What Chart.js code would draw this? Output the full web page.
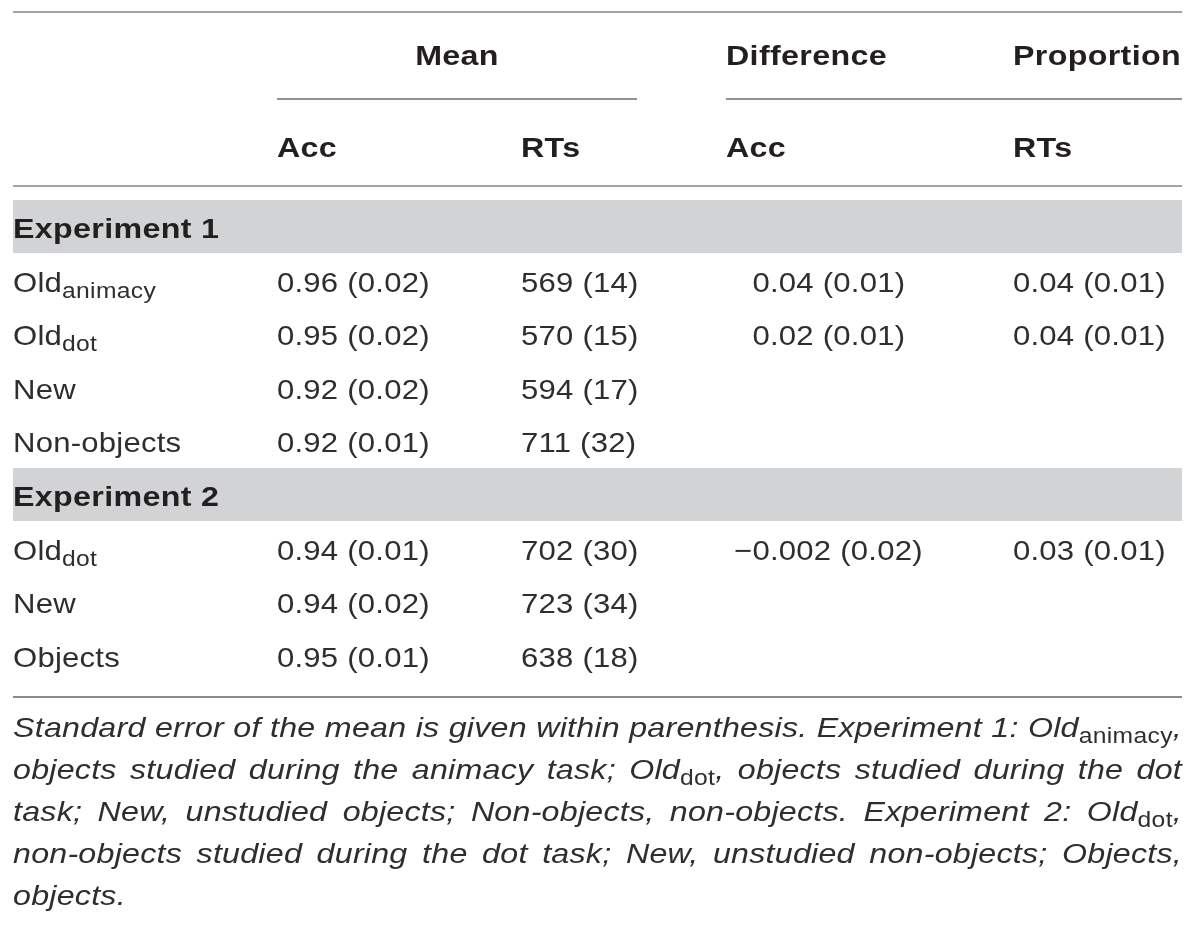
<!DOCTYPE html>
<html>
<head>
<meta charset="utf-8">
<script src="https://cdn.jsdelivr.net/npm/chart.js@4.4.1/dist/chart.umd.min.js"></script>
<style>
  html, body { margin: 0; padding: 0; background: #fff; }
  canvas { display: block; }
</style>
</head>
<body>
<canvas id="table" width="1200" height="928"></canvas>
<script>
// table content
const groupHeaders = ['Mean', 'Difference', 'Proportion'];
const columnHeaders = ['Acc', 'RTs', 'Acc', 'RTs'];
const experimentLabels = ['Experiment 1', 'Experiment 2'];

const exp1Conditions = ['Old_{animacy}', 'Old_{dot}', 'New', 'Non-objects'];
const exp1MeanAcc = ['0.96 (0.02)', '0.95 (0.02)', '0.92 (0.02)', '0.92 (0.01)'];
const exp1MeanRTs = ['569 (14)', '570 (15)', '594 (17)', '711 (32)'];
const exp1DiffAcc = ['0.04 (0.01)', '0.02 (0.01)', '', ''];
const exp1PropRTs = ['0.04 (0.01)', '0.04 (0.01)', '', ''];

const exp2Conditions = ['Old_{dot}', 'New', 'Objects'];
const exp2MeanAcc = ['0.94 (0.01)', '0.94 (0.02)', '0.95 (0.01)'];
const exp2MeanRTs = ['702 (30)', '723 (34)', '638 (18)'];
const exp2DiffAcc = ['\u22120.002 (0.02)', '', ''];
const exp2PropRTs = ['0.03 (0.01)', '', ''];

const footnoteLines = [
    'Standard error of the mean is given within parenthesis. Experiment 1: Old_{animacy},',
    'objects studied during the animacy task; Old_{dot}, objects studied during the dot',
    'task; New, unstudied objects; Non-objects, non-objects. Experiment 2: Old_{dot},',
    'non-objects studied during the dot task; New, unstudied non-objects; Objects,',
    'objects.'
];

// layout (in scale units, which map 1:1 onto the canvas)
const layout = {
    left: 13,
    right: 1182,
    topRule: 12,
    spanRule: 99,
    headRule: 186,
    bottomRule: 697,
    groupBaseline: 65,
    columnBaseline: 157,
    groupAnchors: [{ x: 457, align: 'center' }, { x: 726, align: 'left' }, { x: 1013, align: 'left' }],
    spans: [[277, 637], [726, 1182]],
    columnHeaderX: [277, 521, 726, 1013],
    columnX: [277, 521, 770, 1013],
    decimalAlign: [false, false, true, false],
    firstBandTop: 200,
    bandHeight: 53,
    rowStep: 53.6,
    footBaseline: 737,
    footStep: 42
};

const FAMILY = '"Liberation Sans", Arial, Helvetica, sans-serif';
const styles = {
    regular: { font: '28px ' + FAMILY, track: 0.2, stretch: 1.11, color: '#2e2e2e' },
    bold: { font: 'bold 28px ' + FAMILY, track: 0.3, stretch: 1.15, color: '#231f20' },
    italic: { font: 'italic 28px ' + FAMILY, track: 0.2, stretch: 1.15, color: '#2e2e2e' },
    sub: { font: '22px ' + FAMILY, track: 0.3, stretch: 1.12, color: '#2e2e2e', drop: 6 }
};

const blocks = [
    { label: experimentLabels[0], conditions: exp1Conditions, cells: [exp1MeanAcc, exp1MeanRTs, exp1DiffAcc, exp1PropRTs] },
    { label: experimentLabels[1], conditions: exp2Conditions, cells: [exp2MeanAcc, exp2MeanRTs, exp2DiffAcc, exp2PropRTs] }
];

function plainWidth(ctx, text, style) {
    ctx.font = style.font;
    ctx.letterSpacing = '0px';
    return (ctx.measureText(text).width + style.track * text.length) * style.stretch;
}

function drawPlain(ctx, text, x, y, style) {
    ctx.save();
    ctx.font = style.font;
    ctx.fillStyle = style.color;
    ctx.letterSpacing = style.track + 'px';
    ctx.textAlign = 'left';
    ctx.textBaseline = 'alphabetic';
    ctx.translate(x, y);
    ctx.scale(style.stretch, 1);
    ctx.fillText(text, 0, 0);
    ctx.restore();
}

// "Old_{dot}," -> main / sub / main pieces
function pieces(text) {
    return text.split(/_\{([^}]*)\}/).map((t, i) => ({ text: t, sub: i % 2 === 1 })).filter(p => p.text);
}

function richWidth(ctx, text, main) {
    return pieces(text).reduce((w, p) => w + plainWidth(ctx, p.text, p.sub ? styles.sub : main), 0);
}

function drawRich(ctx, text, x, y, main) {
    pieces(text).forEach(p => {
        const st = p.sub ? styles.sub : main;
        drawPlain(ctx, p.text, x, y + (p.sub ? st.drop : 0), st);
        x += plainWidth(ctx, p.text, st);
    });
}

const tablePlugin = {
    id: 'tableDraw',
    beforeDraw(chart) {
        const ctx = chart.ctx;
        ctx.save();
        ctx.fillStyle = '#ffffff';
        ctx.fillRect(0, 0, chart.width, chart.height);
        ctx.restore();
    },
    afterDraw(chart) {
        const { ctx, scales: { x, y } } = chart;
        const px = v => x.getPixelForValue(v);
        const py = v => y.getPixelForValue(v);
        ctx.save();

        const rule = (x0, x1, yv, color, width) => {
            ctx.strokeStyle = color;
            ctx.lineWidth = width;
            ctx.beginPath();
            ctx.moveTo(px(x0), py(yv));
            ctx.lineTo(px(x1), py(yv));
            ctx.stroke();
        };

        // rules
        rule(layout.left, layout.right, layout.topRule, '#a2a4a7', 2);
        layout.spans.forEach(s => rule(s[0], s[1], layout.spanRule, '#6d6e71', 1.5));
        rule(layout.left, layout.right, layout.headRule, '#a2a4a7', 2);
        rule(layout.left, layout.right, layout.bottomRule, '#8a8c8e', 2);

        // group headers
        groupHeaders.forEach((h, i) => {
            const a = layout.groupAnchors[i];
            let left = a.x;
            if (a.align === 'center') left -= plainWidth(ctx, h, styles.bold) / 2;
            drawPlain(ctx, h, px(left), py(layout.groupBaseline), styles.bold);
        });
        columnHeaders.forEach((h, i) => {
            drawPlain(ctx, h, px(layout.columnHeaderX[i]), py(layout.columnBaseline), styles.bold);
        });

        // experiment blocks
        let rowTop = layout.firstBandTop;
        blocks.forEach(block => {
            ctx.fillStyle = '#d1d3d4';
            ctx.fillRect(px(layout.left), py(rowTop), px(layout.right) - px(layout.left), py(rowTop + layout.bandHeight) - py(rowTop));
            drawPlain(ctx, block.label, px(layout.left), py(rowTop + 38), styles.bold);
            block.conditions.forEach((cond, r) => {
                const base = rowTop + layout.rowStep * (r + 1) + 38;
                drawRich(ctx, cond, px(layout.left), py(base), styles.regular);
                block.cells.forEach((col, c) => {
                    const val = col[r];
                    if (!val) return;
                    let left = layout.columnX[c];
                    if (layout.decimalAlign[c]) left -= plainWidth(ctx, val.split('.')[0], styles.regular);
                    drawPlain(ctx, val, px(left), py(base), styles.regular);
                });
            });
            rowTop += layout.rowStep * (block.conditions.length + 1);
        });

        // footnote, justified except for the last line
        footnoteLines.forEach((line, i) => {
            const words = line.split(' ');
            const widths = words.map(w => richWidth(ctx, w, styles.italic));
            const total = widths.reduce((a, b) => a + b, 0);
            const last = i === footnoteLines.length - 1;
            const natural = plainWidth(ctx, ' ', styles.italic);
            let gap = last ? natural : (layout.right - layout.left - total) / (words.length - 1);
            gap = Math.max(gap, 4);
            let xv = layout.left;
            const base = layout.footBaseline + layout.footStep * i;
            words.forEach((w, k) => {
                drawRich(ctx, w, px(xv), py(base), styles.italic);
                xv += widths[k] + gap;
            });
        });

        ctx.restore();
    }
};

new Chart(document.getElementById('table'), {
    type: 'scatter',
    data: { datasets: [] },
    options: {
        responsive: false,
        animation: false,
        devicePixelRatio: 1,
        layout: { padding: 0 },
        plugins: { legend: { display: false }, tooltip: { enabled: false } },
        scales: {
            x: { type: 'linear', min: 0, max: 1200, display: false },
            y: { type: 'linear', min: 0, max: 928, reverse: true, display: false }
        }
    },
    plugins: [tablePlugin]
});
</script>
</body>
</html>
